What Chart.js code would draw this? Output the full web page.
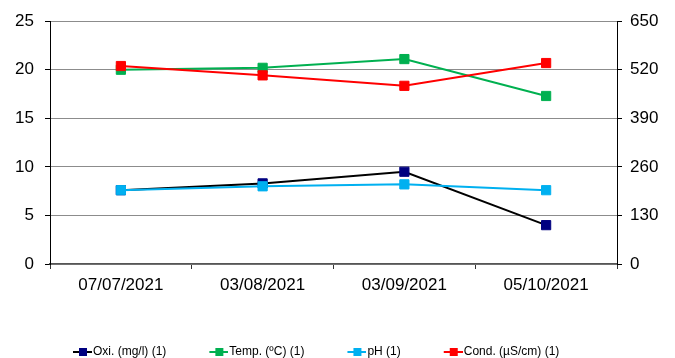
<!DOCTYPE html>
<html>
<head>
<meta charset="utf-8">
<script src="https://cdn.jsdelivr.net/npm/chart.js@4.4.0/dist/chart.umd.min.js"></script>
<style>
  body { margin: 0; background: #fff; }
</style>
</head>
<body>
<canvas id="grafica" width="675" height="358"></canvas>
<script>
// Datos
const fechas = ["07/07/2021", "03/08/2021", "03/09/2021", "05/10/2021"];
const oxigeno = [7.6, 8.3, 9.5, 4.0];
const temperatura = [20.0, 20.2, 21.1, 17.3];
const ph = [7.6, 8.0, 8.2, 7.6];
const conductividad = [530, 505, 477, 538];

const ticksIzq = [0, 5, 10, 15, 20, 25];
const ticksDer = [0, 130, 260, 390, 520, 650];

const FUENTE = "'Liberation Sans', Arial, sans-serif";

// Icono de leyenda: línea con cuadrado en medio
function iconoLeyenda(colorLinea, colorPunto) {
    const c = document.createElement("canvas");
    c.width = 67;
    c.height = 12;
    const g = c.getContext("2d");
    g.strokeStyle = colorLinea;
    g.lineWidth = 2;
    g.beginPath();
    g.moveTo(48, 6);
    g.lineTo(67, 6);
    g.stroke();
    g.fillStyle = colorPunto;
    g.fillRect(54, 2, 8, 8);
    return c;
}

const series = [
    { label: "Oxi. (mg/l) (1)", data: oxigeno, linea: "#000000", punto: "#000080", eje: "y", orden: 4 },
    { label: "Temp. (ºC) (1)", data: temperatura, linea: "#00b050", punto: "#00b050", eje: "y", orden: 3 },
    { label: "pH (1)", data: ph, linea: "#00b0f0", punto: "#00b0f0", eje: "y", orden: 2 },
    { label: "Cond. (µS/cm) (1)", data: conductividad, linea: "#ff0000", punto: "#ff0000", eje: "y1", orden: 1 }
];

const iconos = series.map(s => iconoLeyenda(s.linea, s.punto));

// mover la leyenda un poco a la derecha
const moverLeyenda = {
    id: "moverLeyenda",
    beforeDraw(chart) {
        if (chart.legend) chart.legend.left = 30;
    }
};

const ctx = document.getElementById("grafica").getContext("2d");

new Chart(ctx, {
    type: "line",
    data: {
        labels: fechas,
        datasets: series.map(s => ({
            label: s.label,
            data: s.data,
            yAxisID: s.eje,
            order: s.orden,
            borderColor: s.linea,
            backgroundColor: s.punto,
            borderWidth: 2,
            pointStyle: "rect",
            pointRadius: 6.5,
            pointBackgroundColor: s.punto,
            pointBorderColor: s.punto,
            pointBorderWidth: 1,
            tension: 0
        }))
    },
    options: {
        responsive: false,
        animation: false,
        layout: { padding: { left: 0, right: 0, top: 20, bottom: 0 } },
        plugins: {
            tooltip: { enabled: false },
            legend: {
                position: "bottom",
                align: "start",
                maxHeight: 12,
                labels: {
                    usePointStyle: true,
                    pointStyleWidth: 57,
                    padding: 0,
                    color: "#000",
                    font: { family: FUENTE, size: 12 },
                    sort: (a, b) => a.datasetIndex - b.datasetIndex,
                    generateLabels: chart => {
                        const items = Chart.defaults.plugins.legend.labels.generateLabels(chart);
                        items.forEach(it => { it.pointStyle = iconos[it.datasetIndex]; });
                        return items;
                    }
                }
            }
        },
        scales: {
            x: {
                offset: true,
                afterFit: s => { s.height = 82; },
                grid: {
                    offset: true,
                    drawOnChartArea: false,
                    tickLength: 5,
                    tickColor: "#333"
                },
                border: { color: "#555", width: 1.5 },
                ticks: { color: "#000", padding: 6, maxRotation: 0, font: { family: FUENTE, size: 17 } }
            },
            y: {
                position: "left",
                min: 0,
                max: 25,
                afterFit: s => { s.width = 50; },
                afterBuildTicks: s => { s.ticks = ticksIzq.map(v => ({ value: v })); },
                grid: { color: "#8c8c8c", tickColor: "#000", tickLength: 5 },
                border: { color: "#000", width: 1 },
                ticks: { color: "#000", padding: 11, font: { family: FUENTE, size: 17 } }
            },
            y1: {
                position: "right",
                min: 0,
                max: 650,
                afterFit: s => { s.width = 58; },
                afterBuildTicks: s => { s.ticks = ticksDer.map(v => ({ value: v })); },
                grid: { drawOnChartArea: false, tickColor: "#000", tickLength: 5 },
                border: { color: "#000", width: 1 },
                ticks: { color: "#000", padding: 8, font: { family: FUENTE, size: 17 } }
            }
        }
    },
    plugins: [moverLeyenda]
});
</script>
</body>
</html>
